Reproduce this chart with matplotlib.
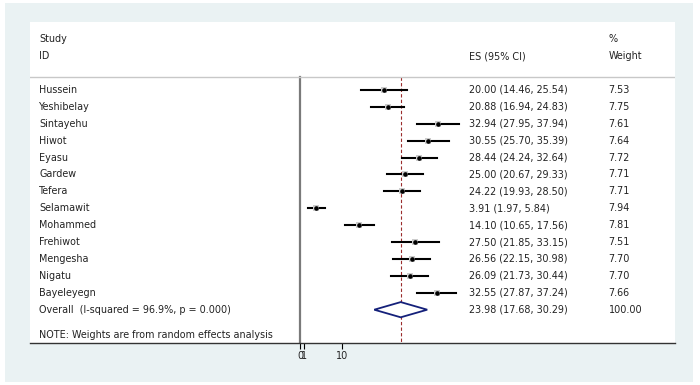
import matplotlib.pyplot as plt
import matplotlib.patches as mpatches

# dados
STUDIES = ["Hussein", "Yeshibelay", "Sintayehu", "Hiwot", "Eyasu", "Gardew", "Tefera",
           "Selamawit", "Mohammed", "Frehiwot", "Mengesha", "Nigatu", "Bayeleyegn"]
ES = [20.00, 20.88, 32.94, 30.55, 28.44, 25.00, 24.22, 3.91, 14.10, 27.50, 26.56, 26.09, 32.55]
LOWER = [14.46, 16.94, 27.95, 25.70, 24.24, 20.67, 19.93, 1.97, 10.65, 21.85, 22.15, 21.73, 27.87]
UPPER = [25.54, 24.83, 37.94, 35.39, 32.64, 29.33, 28.50, 5.84, 17.56, 33.15, 30.98, 30.44, 37.24]
WEIGHTS = [7.53, 7.75, 7.61, 7.64, 7.72, 7.71, 7.71, 7.94, 7.81, 7.51, 7.70, 7.70, 7.66]
OVERALL = (23.98, 17.68, 30.29)
OVERALL_LABEL = "Overall  (I-squared = 96.9%, p = 0.000)"
NOTE = "NOTE: Weights are from random effects analysis"
XTICKS = [0, 1, 10]

FONT = "DejaVu Sans"
FS = 6.9
TXT = "#222222"
BG = "#eaf2f3"

fig = plt.figure(figsize=(7, 3.85), dpi=100, facecolor="white")

# fundo azulado (região do gráfico)
bg_ax = fig.add_axes([5 / 700, 3 / 385, 688 / 700, 379 / 385], zorder=-1)
bg_ax.set_facecolor(BG)
bg_ax.set_xticks([])
bg_ax.set_yticks([])
for s in bg_ax.spines.values():
    s.set_visible(False)

# eixo cobre o painel branco (pixels 30..675 x 22..343)
ax = fig.add_axes([30 / 700, (385 - 343) / 385, 645 / 700, 321 / 385], zorder=1)
ax.set_facecolor("white")
px_per_unit = 4.2
ax.set_xlim((30 - 300) / px_per_unit, (675 - 300) / px_per_unit)
ax.set_ylim(14.97, -4.02)

row_top = -0.77
tr = ax.get_yaxis_transform()
kw = dict(transform=tr, fontsize=FS, family=FONT, va="center", color=TXT)

# cabeçalho
ax.text(0.014, -3.0, "Study", **kw)
ax.text(0.68, -2.0, "ES (95% CI)", **kw)
ax.text(0.014, -2.0, "ID", **kw)
ax.text(0.897, -3.0, "%", **kw)
ax.text(0.897, -2.0, "Weight", **kw)
ax.axhline(row_top, color="#c8c8c8", linewidth=1.0)

# linhas de referência
ax.plot([0, 0], [row_top, 14.97], color="#7a7a7a", linewidth=1.6, zorder=1)
ax.plot([OVERALL[0]] * 2, [row_top, 14.97], color="#9b2d2d", linewidth=0.8,
        linestyle=(0, (3, 2)), zorder=1)

for i, name in enumerate(STUDIES):
    ax.plot([LOWER[i], UPPER[i]], [i, i], color="black", linewidth=1.5, zorder=2)
    ax.plot(ES[i], i, marker="s", markersize=WEIGHTS[i] * 0.6, color="#cccccc",
            markeredgewidth=0, zorder=3)
    ax.plot(ES[i], i, marker="o", markersize=2.3, color="black", zorder=4)
    ax.text(0.014, i, name, **kw)
    ax.text(0.68, i, f"{ES[i]:.2f} ({LOWER[i]:.2f}, {UPPER[i]:.2f})", **kw)
    ax.text(0.897, i, f"{WEIGHTS[i]:.2f}", **kw)

# diamante do efeito global
n = len(STUDIES)
est, lo, hi = OVERALL
diamond = mpatches.Polygon([(lo, n), (est, n - 0.45), (hi, n), (est, n + 0.45)],
                           closed=True, facecolor="white", edgecolor="#14207a",
                           linewidth=1.3, zorder=3)
ax.add_patch(diamond)
ax.text(0.014, n, OVERALL_LABEL, **kw)
ax.text(0.68, n, f"{est:.2f} ({lo:.2f}, {hi:.2f})", **kw)
ax.text(0.897, n, "100.00", **kw)
ax.text(0.014, n + 1.5, NOTE, **kw)

for s in ["top", "left", "right"]:
    ax.spines[s].set_visible(False)
ax.spines["bottom"].set_color("#333333")
ax.spines["bottom"].set_linewidth(1.0)
ax.set_yticks([])
ax.set_xticks(XTICKS)
ax.set_xticklabels([str(t) for t in XTICKS], fontsize=FS, family=FONT, color=TXT)
ax.tick_params(axis="x", length=4, width=0.8, pad=2)

fig.savefig("out.png", dpi=100, facecolor="white")
